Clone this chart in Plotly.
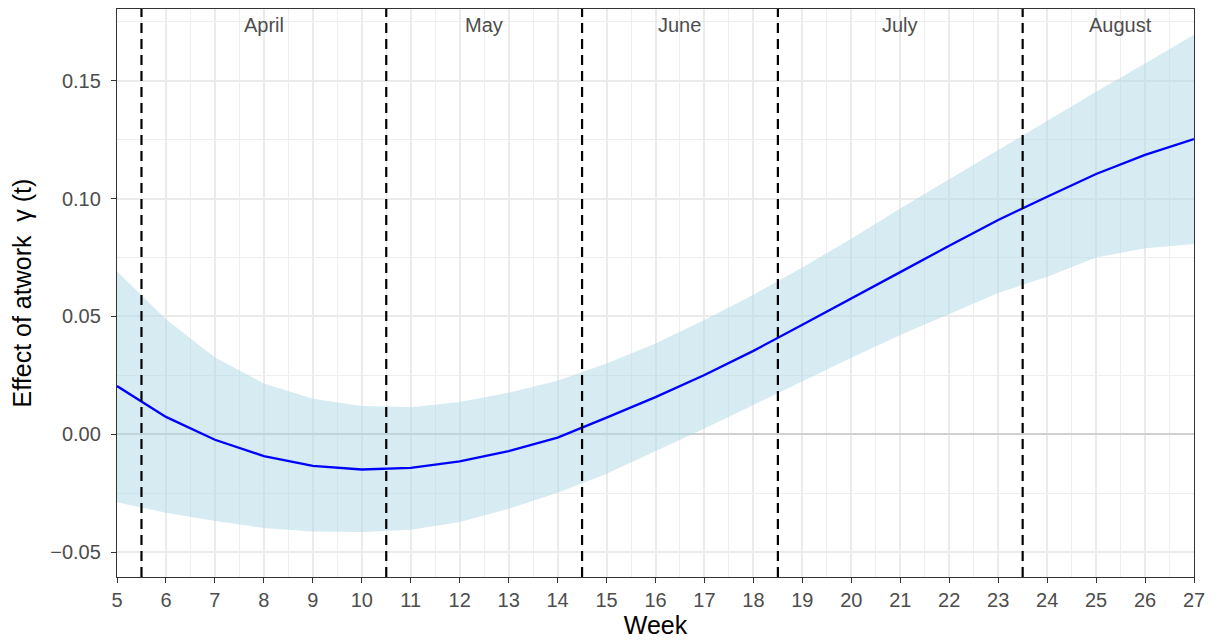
import plotly.graph_objects as go

weeks = list(range(5, 28))
estimate = [0.0205, 0.0074, -0.0023, -0.0092, -0.0134, -0.0149, -0.0142, -0.0115,
            -0.0071, -0.0014, 0.0071, 0.0158, 0.0252, 0.0354, 0.0465, 0.0575,
            0.0688, 0.0800, 0.0909, 0.1008, 0.1104, 0.1185, 0.1252]
upper = [0.0692, 0.0488, 0.0326, 0.0216, 0.0151, 0.0120, 0.0115, 0.0137,
         0.0176, 0.0227, 0.0300, 0.0385, 0.0485, 0.0592, 0.0708, 0.0830,
         0.0958, 0.1082, 0.1205, 0.1331, 0.1453, 0.1573, 0.1695]
lower = [-0.0288, -0.0332, -0.0368, -0.0397, -0.0412, -0.0414, -0.0405, -0.0372,
         -0.0316, -0.0248, -0.0167, -0.0071, 0.0025, 0.0125, 0.0225, 0.0325,
         0.0421, 0.0511, 0.0600, 0.0668, 0.0750, 0.0789, 0.0807]

month_breaks = [5.5, 10.5, 14.5, 18.5, 23.5]
month_names = ["April", "May", "June", "July", "August"]
month_pos = [8, 12.5, 16.5, 21, 25.5]
month_label_y = 0.1735

y_ticks = [-0.05, 0.00, 0.05, 0.10, 0.15]

FONT = "Liberation Sans, Arial, sans-serif"
AX = "#333333"
TXT = "#4D4D4D"

fig = go.Figure()

fig.add_trace(go.Scatter(x=weeks, y=lower, mode="lines", line=dict(width=0),
                         hoverinfo="skip", showlegend=False))
fig.add_trace(go.Scatter(x=weeks, y=upper, mode="lines", line=dict(width=0),
                         fill="tonexty", fillcolor="rgba(173,216,230,0.5)",
                         hoverinfo="skip", showlegend=False))
fig.add_trace(go.Scatter(x=weeks, y=estimate, mode="lines",
                         line=dict(color="#0000FF", width=2.3), showlegend=False))

for b in month_breaks:
    fig.add_shape(type="line", xref="x", yref="paper", x0=b, x1=b, y0=0, y1=1,
                  line=dict(color="black", width=2.2, dash="10px,6px"), layer="above")

for name, pos in zip(month_names, month_pos):
    fig.add_annotation(x=pos, y=month_label_y, xref="x", yref="y", text=name,
                       showarrow=False, font=dict(family=FONT, size=20, color=TXT),
                       xanchor="center", yanchor="middle")

fig.update_layout(
    width=1209, height=636,
    margin=dict(l=109, r=23, t=1, b=67),
    paper_bgcolor="white", plot_bgcolor="white",
    font=dict(family=FONT, color=TXT),
    showlegend=False,
)

fig.update_xaxes(
    range=[5, 27], tickmode="array", tickvals=weeks, ticktext=[str(w) for w in weeks],
    showgrid=True, gridcolor="#EBEBEB", gridwidth=1.6,
    minor=dict(dtick=0.5, tick0=5, showgrid=True, gridcolor="#EEEEEE", gridwidth=1.1, ticks=""),
    showline=True, linecolor=AX, linewidth=1.3, mirror=True,
    ticks="outside", ticklen=5, tickwidth=1.3, tickcolor=AX,
    tickfont=dict(family=FONT, size=20, color=TXT),
    title=dict(text="Week", font=dict(family=FONT, size=25, color="black"), standoff=6),
    zeroline=False,
)
fig.update_yaxes(
    range=[-0.0605, 0.1804], tickmode="array", tickvals=y_ticks,
    tickformat=".2f",
    showgrid=True, gridcolor="#EBEBEB", gridwidth=1.6,
    minor=dict(dtick=0.025, tick0=0.0, showgrid=True, gridcolor="#EEEEEE", gridwidth=1.1, ticks=""),
    showline=True, linecolor=AX, linewidth=1.3, mirror=True,
    ticks="outside", ticklen=5, tickwidth=1.3, tickcolor=AX,
    tickfont=dict(family=FONT, size=20, color=TXT),
    ticklabelstandoff=6,
    title=dict(text="Effect of atwork\u00a0 γ (t)", font=dict(family=FONT, size=25, color="black"),
               standoff=12),
    zeroline=True, zerolinecolor="#D0D0D0", zerolinewidth=2.4,
)

fig.write_html("out.html")
